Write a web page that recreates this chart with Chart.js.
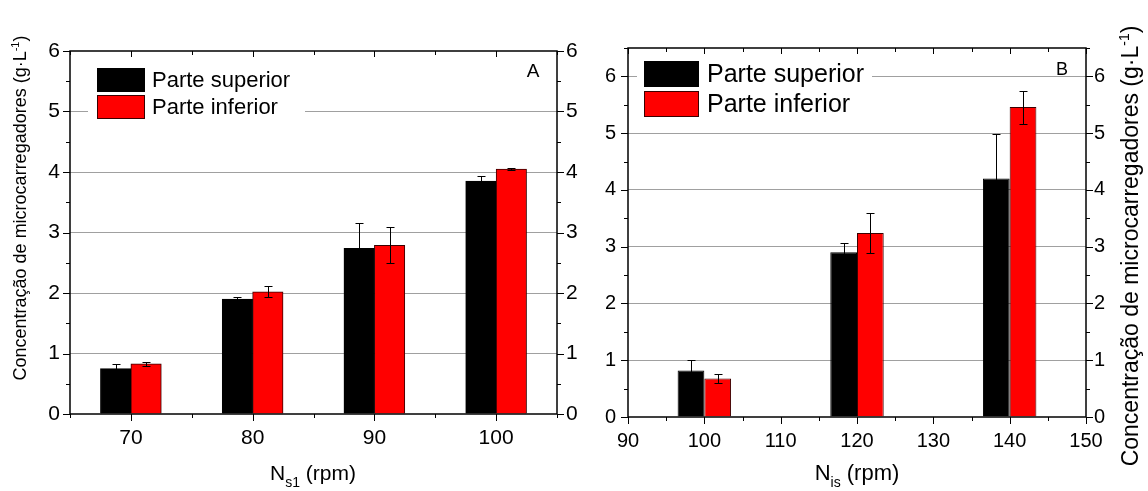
<!DOCTYPE html>
<html>
<head>
<meta charset="utf-8">
<script src="https://cdn.jsdelivr.net/npm/chart.js@4.4.1/dist/chart.umd.min.js"></script>
<style>
  body { margin: 0; background: #fff; }
  #wrap { position: relative; width: 1148px; height: 491px; }
  canvas { position: absolute; top: 0; }
  #chartA { left: 0; }
  #chartB { left: 590px; }
</style>
</head>
<body>
<div id="wrap">
  <canvas id="chartA" width="590" height="491"></canvas>
  <canvas id="chartB" width="558" height="491"></canvas>
</div>
<script>
const seriesNames = ["Parte superior", "Parte inferior"];

// panel A
const rpmA = [70, 80, 90, 100];
const superiorA = [0.75, 1.90, 2.74, 3.85];
const superiorErrA = [0.07, 0.04, 0.42, 0.08];
const inferiorA = [0.83, 2.02, 2.79, 4.05];
const inferiorErrA = [0.03, 0.09, 0.30, 0.02];

// panel B
const rpmB = [100, 120, 140];
const superiorB = [0.82, 2.90, 4.20];
const superiorErrB = [0.19, 0.17, 0.78];
const inferiorB = [0.68, 3.24, 5.46];
const inferiorErrB = [0.08, 0.35, 0.29];

// axis titles (text, superscript/subscript, rest)
const yTitle = ["Concentração de microcarregadores (g·L", "-1", ")"];
const xTitleA = ["N", "s1", " (rpm)"];
const xTitleB = ["N", "is", " (rpm)"];

const FONT = "'Liberation Sans', Arial, sans-serif";

const errorBars = {
  id: "errorBars",
  afterDatasetsDraw(chart) {
    const ctx = chart.ctx, y = chart.scales.y;
    ctx.save();
    ctx.strokeStyle = "#000";
    ctx.lineWidth = 1;
    chart.data.datasets.forEach((ds, i) => {
      chart.getDatasetMeta(i).data.forEach((bar, j) => {
        const v = ds.data[j].y, e = ds.errors[j];
        const top = Math.round(y.getPixelForValue(v + e)) + 0.5;
        const bot = Math.round(y.getPixelForValue(v - e)) + 0.5;
        const x = Math.round(bar.x) + 0.5;
        ctx.beginPath();
        ctx.moveTo(x, top); ctx.lineTo(x, bot);
        ctx.moveTo(x - 4, top); ctx.lineTo(x + 4, top);
        ctx.moveTo(x - 4, bot); ctx.lineTo(x + 4, bot);
        ctx.stroke();
      });
    });
    ctx.restore();
  }
};

// frame, minor/major ticks, titles, legend
const frame = {
  id: "frame",
  afterDraw(chart, args, o) {
    const { ctx, chartArea: a, scales } = chart;
    ctx.save();
    ctx.strokeStyle = "#000";
    ctx.lineWidth = 1.5;
    ctx.strokeRect(a.left, a.top, a.right - a.left, a.bottom - a.top);

    ctx.lineWidth = 1;
    ctx.beginPath();
    scales.x.ticks.forEach((t, i) => {
      const px = Math.round(scales.x.getPixelForTick(i)) + 0.5;
      const major = t.value % 10 === 0;
      ctx.moveTo(px, a.bottom); ctx.lineTo(px, a.bottom + (major ? 7 : 4));
      ctx.moveTo(px, a.top); ctx.lineTo(px, a.top + (major ? 6 : 4));
    });
    scales.y.ticks.forEach((t, i) => {
      const py = Math.round(scales.y.getPixelForTick(i)) + 0.5;
      const len = Number.isInteger(t.value) ? 7 : 4;
      ctx.moveTo(a.left - len, py); ctx.lineTo(a.left, py);
      ctx.moveTo(a.right, py); ctx.lineTo(a.right + len, py);
    });
    ctx.stroke();

    ctx.fillStyle = "#000";

    // y title, rotated, with superscript
    const yt = o.yTitle, fs = yt.size;
    ctx.save();
    ctx.translate(yt.x, yt.y);
    ctx.rotate(-Math.PI / 2);
    ctx.textBaseline = "alphabetic";
    ctx.font = fs + "px " + FONT;
    const w1 = ctx.measureText(yTitle[0]).width;
    const w3 = ctx.measureText(yTitle[2]).width;
    ctx.font = Math.round(fs * 0.62) + "px " + FONT;
    const w2 = ctx.measureText(yTitle[1]).width;
    let u = -(w1 + w2 + w3) / 2;
    const b = fs * 0.36;
    ctx.font = fs + "px " + FONT;
    ctx.fillText(yTitle[0], u, b);
    ctx.font = Math.round(fs * 0.62) + "px " + FONT;
    ctx.fillText(yTitle[1], u + w1, b - fs * 0.42);
    ctx.font = fs + "px " + FONT;
    ctx.fillText(yTitle[2], u + w1 + w2, b);
    ctx.restore();

    // x title with subscript
    const xt = o.xTitle, xs = xt.size, parts = xt.text;
    ctx.textBaseline = "alphabetic";
    ctx.font = xs + "px " + FONT;
    const n1 = ctx.measureText(parts[0]).width, n3 = ctx.measureText(parts[2]).width;
    ctx.font = Math.round(xs * 0.65) + "px " + FONT;
    const n2 = ctx.measureText(parts[1]).width;
    const sx = xt.x - (n1 + n2 + n3) / 2;
    ctx.font = xs + "px " + FONT;
    ctx.fillText(parts[0], sx, xt.y);
    ctx.fillText(parts[2], sx + n1 + n2, xt.y);
    ctx.font = Math.round(xs * 0.65) + "px " + FONT;
    ctx.fillText(parts[1], sx + n1, xt.y + xs * 0.33);

    // panel letter
    ctx.font = o.letter.size + "px " + FONT;
    ctx.textAlign = "center";
    ctx.fillText(o.letter.text, a.right - o.letter.dx, a.top + o.letter.dy);
    ctx.textAlign = "left";

    // legend
    const lg = o.legend;
    ctx.fillStyle = "#fff";
    ctx.fillRect(a.left + lg.bg[0], a.top + lg.bg[1], lg.bg[2], lg.bg[3]);
    chart.data.datasets.forEach((ds, i) => {
      const by = a.top + lg.boxY[i];
      ctx.fillStyle = ds.backgroundColor;
      ctx.fillRect(a.left + lg.boxX, by, lg.boxW, lg.boxH);
      ctx.strokeStyle = ds.borderColor;
      ctx.strokeRect(a.left + lg.boxX + 0.5, by + 0.5, lg.boxW - 1, lg.boxH - 1);
      ctx.fillStyle = "#000";
      ctx.font = lg.size + "px " + FONT;
      ctx.textBaseline = "middle";
      ctx.fillText(ds.label, a.left + lg.textX, by + lg.boxH / 2 + 1);
    });
    ctx.restore();
  }
};

function barChart(id, xs, sup, supErr, inf, infErr, o) {
  const tickFont = { family: FONT, size: o.tick };
  const yTicks = {
    stepSize: 0.5, autoSkip: false, color: "#000", font: tickFont,
    callback: v => Number.isInteger(v) ? v : ""
  };
  return new Chart(document.getElementById(id), {
    type: "bar",
    data: {
      datasets: [
        {
          label: seriesNames[0],
          data: xs.map((x, i) => ({ x: x, y: sup[i] })),
          errors: supErr,
          backgroundColor: "#000000",
          borderColor: "#000000",
          borderWidth: 1,
        },
        {
          label: seriesNames[1],
          data: xs.map((x, i) => ({ x: x, y: inf[i] })),
          errors: infErr,
          backgroundColor: "#ff0000",
          borderColor: "#3a0000",
          borderWidth: 1,
        },
      ],
    },
    options: {
      responsive: false,
      animation: false,
      devicePixelRatio: 1,
      categoryPercentage: o.groupPct,
      barPercentage: 1,
      layout: { padding: { top: o.top, left: 0, right: 0, bottom: 0 } },
      scales: {
        x: {
          type: "linear",
          min: o.xMin, max: o.xMax,
          offset: false,
          afterFit: s => { s.height = o.xHeight; },
          grid: { display: false, drawTicks: false, offset: false },
          border: { display: false },
          ticks: {
            stepSize: 5, autoSkip: false, maxRotation: 0, padding: o.xPad,
            color: "#000", font: tickFont,
            callback: v => v % 10 === 0 ? v : ""
          },
        },
        y: {
          min: 0, max: o.yMax,
          afterFit: s => { s.width = o.yLeft; },
          grid: {
            drawTicks: false,
            color: c => (c.tick && Number.isInteger(c.tick.value) && c.tick.value > 0 && c.tick.value < o.yMax) ? "#a0a0a0" : "rgba(0,0,0,0)",
          },
          border: { display: false },
          ticks: Object.assign({ padding: o.yPad }, yTicks),
        },
        y2: {
          position: "right",
          min: 0, max: o.yMax,
          afterFit: s => { s.width = o.yRight; },
          grid: { display: false, drawTicks: false },
          border: { display: false },
          ticks: Object.assign({ padding: o.y2Pad }, yTicks),
        },
      },
      plugins: {
        legend: { display: false },
        tooltip: { enabled: false },
        frame: o.frame,
      },
    },
    plugins: [errorBars, frame],
  });
}

barChart("chartA", rpmA, superiorA, superiorErrA, inferiorA, inferiorErrA, {
  xMin: 65, xMax: 105, yMax: 6, groupPct: 1.0,
  top: 51, xHeight: 77, yLeft: 70, yRight: 33,
  tick: 21, xPad: 12, yPad: 10, y2Pad: 9,
  frame: {
    yTitle: { x: 20, y: 208, size: 18 },
    xTitle: { text: xTitleA, x: 313, y: 480, size: 21 },
    letter: { text: "A", dx: 24, dy: 26, size: 19 },
    legend: { bg: [18, 11, 217, 60], boxX: 27, boxY: [17, 44], boxW: 48, boxH: 24, textX: 82, size: 22 },
  },
});

barChart("chartB", rpmB, superiorB, superiorErrB, inferiorB, inferiorErrB, {
  xMin: 90, xMax: 150, yMax: 6.5, groupPct: 1.4,
  top: 48, xHeight: 74, yLeft: 38, yRight: 62,
  tick: 20, xPad: 12, yPad: 12, y2Pad: 8,
  frame: {
    yTitle: { x: 540, y: 246, size: 23 },
    xTitle: { text: xTitleB, x: 267, y: 480, size: 22 },
    letter: { text: "B", dx: 24, dy: 27, size: 18 },
    legend: { bg: [9, 7, 235, 68], boxX: 16, boxY: [13, 43], boxW: 55, boxH: 26, textX: 79, size: 25 },
  },
});
</script>
</body>
</html>
